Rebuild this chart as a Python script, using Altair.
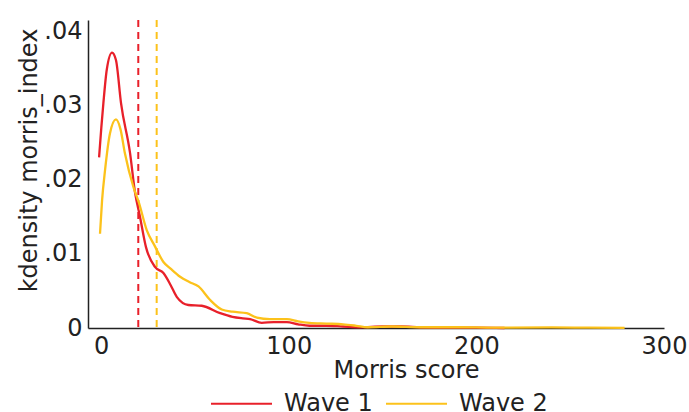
import altair as alt
import pandas as pd

# Wave 1 kernel density
w1_x = [-1.1, 0.1, 1.2, 3.0, 5.8, 7.9, 10.6, 15.4, 18.1, 20.7, 23.9, 28.8, 33.2, 37, 40.3, 46.5, 53.6, 63.4, 70, 75.5, 79.4, 85.6, 92, 99, 105, 111, 120, 129, 138, 150, 160, 170, 185, 200, 215]
w1_y = [0.0230, 0.0270, 0.0303, 0.0348, 0.0371, 0.0361, 0.0303, 0.0236, 0.0182, 0.0150, 0.0109, 0.0082, 0.0074, 0.0058, 0.0042, 0.0031, 0.0030, 0.0020, 0.0015, 0.0013, 0.0012, 0.0007, 0.0008, 0.0008, 0.0005, 0.0003, 0.0003, 0.0002, 0.0001, 0.0002, 0.0002, 0.0001, 0.00005, 0.00005, 0.0]

# Wave 2 kernel density
w2_x = [-0.6, 0.5, 2.1, 4.7, 7.9, 10.3, 12.7, 17.2, 20.0, 24.3, 28.7, 33.2, 37, 42.1, 47, 51.9, 58, 64.3, 70, 77.6, 83, 90, 99, 105, 111, 120, 129, 136, 142, 155, 170, 190, 210, 240, 260, 279]
w2_y = [0.0127, 0.0172, 0.0213, 0.0262, 0.0281, 0.0268, 0.0235, 0.0190, 0.0170, 0.0132, 0.0110, 0.0089, 0.0080, 0.0069, 0.0062, 0.0056, 0.0038, 0.0025, 0.0022, 0.0020, 0.0014, 0.0012, 0.0012, 0.0009, 0.0007, 0.0006, 0.0005, 0.0003, 0.0001, 0.0002, 0.0001, 0.0001, 0.00005, 0.00008, 0.00005, 0.00003]

waves = ["Wave 1", "Wave 2"]
colors = ["#e8202a", "#fcc21b"]
cutoffs = [19.8, 29.6]
x_ticks = [0, 100, 200, 300]
y_ticks = [0, 0.01, 0.02, 0.03, 0.04]

rows = []
for i, (xv, yv) in enumerate(zip(w1_x, w1_y)):
    rows.append({"x": xv, "y": yv, "wave": waves[0], "o": i})
for i, (xv, yv) in enumerate(zip(w2_x, w2_y)):
    rows.append({"x": xv, "y": yv, "wave": waves[1], "o": i})
dens = pd.DataFrame(rows)
cuts = pd.DataFrame({"x": cutoffs, "wave": waves})

FONT = "DejaVu Sans"
color_scale = alt.Scale(domain=waves, range=colors)
xscale = alt.Scale(domain=[-7, 300], nice=False, zero=False)
yscale = alt.Scale(domain=[0, 0.0415], nice=False)

legend = alt.Legend(title=None, orient="none", direction="horizontal",
                    legendX=122, legendY=352,
                    symbolType="stroke", symbolSize=3721,
                    symbolStrokeWidth=2, labelFontSize=24,
                    labelFont=FONT, labelOffset=11,
                    columnPadding=9, labelColor="#222")

lines = alt.Chart(dens).mark_line(strokeWidth=2.3, interpolate="monotone").encode(
    x=alt.X("x:Q", scale=xscale,
            axis=alt.Axis(title="Morris score", values=x_ticks, format="d",
                          labelPadding=6, titlePadding=0, tickSize=0,
                          labelFlush=False, titleX=318)),
    y=alt.Y("y:Q", scale=yscale,
            axis=alt.Axis(title="kdensity morris_index", values=y_ticks,
                          labelExpr="datum.value == 0 ? '0' : substring(format(datum.value, '.2f'), 1)",
                          labelPadding=6, titlePadding=2, tickSize=0, titleY=140,
                          labelFlush=False)),
    color=alt.Color("wave:N", scale=color_scale, legend=legend),
    order="o:Q",
)

rules = alt.Chart(cuts).mark_rule(strokeWidth=2, strokeDash=[7, 5]).encode(
    x=alt.X("x:Q", scale=xscale),
    color=alt.Color("wave:N", scale=color_scale, legend=legend),
)

chart = (rules + lines).properties(
    width=576, height=308,
    autosize=alt.AutoSizeParams(type="none"),
    padding={"left": 88, "top": 20, "right": 25, "bottom": 84},
).configure_view(stroke=None).configure_axis(
    grid=False, domainColor="#222", domainWidth=1.5,
    labelFont=FONT, titleFont=FONT, labelFontSize=24, titleFontSize=24,
    labelColor="#222", titleColor="#222", titleFontWeight="normal",
)

chart.save("out.html", embed_options={"renderer": "svg", "actions": False})
